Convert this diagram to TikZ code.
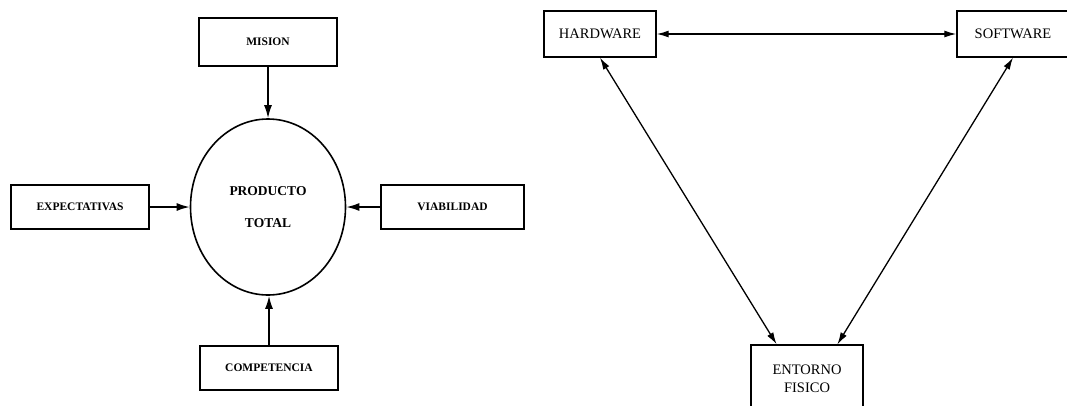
\documentclass[tikz,border=0pt]{standalone}
\usepackage{fontspec}
\setmainfont{Liberation Serif}
\usetikzlibrary{arrows.meta,shapes.geometric,calc}
\begin{document}
\begin{tikzpicture}[x=1pt,y=-1pt,
  lbox/.style={draw,line width=1.6pt,inner sep=0pt,align=center,
    font=\fontsize{11.5}{13}\selectfont\bfseries},
  rbox/.style={draw,line width=1.4pt,inner sep=0pt,align=center,
    font=\fontsize{14.5}{18}\selectfont},
  larrow/.style={line width=1.6pt,-{Latex[length=13pt,width=8pt]}},
  rarrow/.style={line width=1.3pt,{Latex[length=12pt,width=7pt]}-{Latex[length=12pt,width=7pt]}}]
\useasboundingbox (0,0) rectangle (1067,405);
\clip (0,0) rectangle (1067,405);
\fill[white] (0,0) rectangle (1067,405);
% left diagram
\node[lbox,minimum width=138pt,minimum height=48pt] (mision) at (268,42) {MISION};
\node[lbox,minimum width=138pt,minimum height=44pt] (expect) at (80,207) {EXPECTATIVAS};
\node[lbox,minimum width=143pt,minimum height=44pt] (viab) at (452.5,207) {VIABILIDAD};
\node[lbox,minimum width=138pt,minimum height=44pt] (compet) at (269,368) {COMPETENCIA};
\node[draw,ellipse,line width=1.6pt,inner sep=0pt,minimum width=155pt,minimum height=176pt,
  align=center,font=\fontsize{13.5}{32}\selectfont\bfseries] (prod) at (268,207) {PRODUCTO\\TOTAL};
\draw[larrow] (mision.south) -- (prod.north);
\draw[larrow] (expect.east) -- (prod.west);
\draw[larrow] (viab.west) -- (prod.east);
\draw[larrow] (compet.north) -- (compet.north |- prod.south);
% right diagram
\node[rbox,minimum width=112pt,minimum height=46pt] (hw) at (600,34) {HARDWARE};
\node[rbox,minimum width=112pt,minimum height=46pt] (sw) at (1013,34) {SOFTWARE};
\node[rbox,minimum width=112pt,minimum height=68pt] (ef) at (807,379) {ENTORNO\\FISICO};
\coordinate (efl) at ($(ef.north west)!0.232!(ef.north east)$);
\coordinate (efr) at ($(ef.north west)!0.768!(ef.north east)$);
\draw[rarrow] (hw.east) -- (sw.west);
\draw[rarrow] (hw.south) -- (efl);
\draw[rarrow] (sw.south) -- (efr);
\end{tikzpicture}
\end{document}
